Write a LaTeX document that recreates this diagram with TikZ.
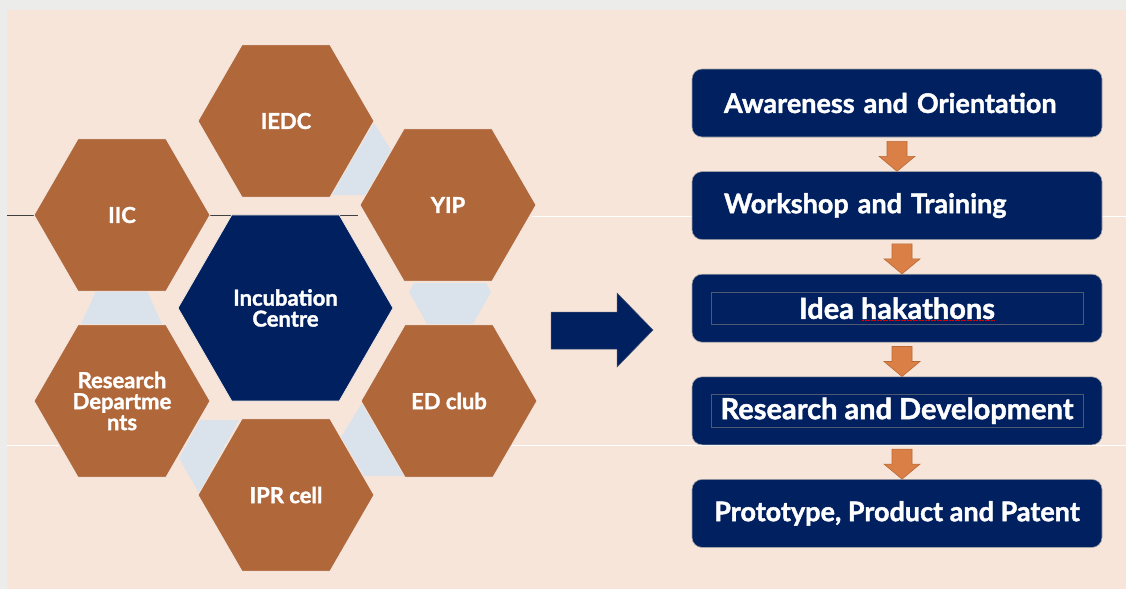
\documentclass[tikz,border=0pt]{standalone}
\usepackage{fontspec}
\setmainfont{Lato}[BoldFeatures={FakeBold=1.5}]
\usetikzlibrary{positioning,shapes.geometric,calc}
\definecolor{peach}{RGB}{248,229,217}
\definecolor{slidegray}{RGB}{236,236,234}
\definecolor{copper}{RGB}{176,103,58}
\definecolor{navyblue}{RGB}{0,32,96}
\definecolor{paleblue}{RGB}{218,227,236}
\definecolor{arroworange}{RGB}{218,128,70}
\definecolor{arrowedge}{RGB}{184,105,56}

\tikzset{
  hexa/.style={regular polygon, regular polygon sides=6, minimum size=176, inner sep=0pt,
    fill=copper, draw=white!85!copper, line width=0.8pt, text=white, align=center,
    font=\fontsize{22}{21}\selectfont\bfseries},
  stagebox/.style={rounded corners=10pt, minimum width=410, minimum height=68,
    fill=navyblue, draw=gray!70, line width=0.6pt, text=white,
    font=\fontsize{27}{30}\selectfont\bfseries},
  framed/.style={font=\fontsize{29}{30}\selectfont\bfseries},
  gap/.style={fill=paleblue},
  downarrow/.style={fill=arroworange, draw=arrowedge, line width=0.6pt},
  textframe/.style={draw=gray!60!navyblue, line width=0.6pt},
}

\begin{document}
\begin{tikzpicture}[x=1pt, y=-1pt]
    \useasboundingbox (0,0) rectangle (1126,589);
    \fill[slidegray] (0,0) rectangle (1126,589);
    \fill[peach] (7,10) rectangle (1126,589);

    % guide lines
    \draw[darkgray, line width=0.8pt] (7,215) -- (358,215);
    \draw[white, line width=0.8pt] (532,216) -- (1126,216);
    \draw[white, line width=0.6pt] (7,445) -- (1126,445);

    % pale gaps between the cells
    \fill[gap] (374,123) -- (391,150) -- (366,195) -- (331,195) -- cycle;
    \fill[gap] (414,283) -- (486,283) -- (491,292) -- (473,324) -- (427,324) -- (409,292) -- cycle;
    \fill[gap] (96,291) -- (147,291) -- (162,324) -- (81,324) -- cycle;
    \fill[gap] (200,420) -- (239,420) -- (199,493) -- (179,458) -- cycle;
    \fill[gap] (362,403) -- (341,437) -- (364,476) -- (405,476) -- cycle;

    % centre cell
    \node[hexa, fill=navyblue, minimum size=215] (inc) at (285.5,308) {Incubation\\Centre};
    % ring of cells
    \node[hexa] (iedc) at (286,121) {IEDC};
    \node[hexa] (yip)  at (448,205) {YIP};
    \node[hexa] (ed)   at (449,401) {ED club};
    \node[hexa] (ipr)  at (286,495) {IPR cell};
    \node[hexa] (rd)   at (122,401) {Research\\Departme\\nts};
    \node[hexa] (iic)  at (122,215) {IIC};

    % pointer
    \filldraw[fill=navyblue, draw=gray!50!navyblue, line width=0.5pt]
        (551,312) -- (617,312) -- (617,293) -- (653,330) -- (617,367) -- (617,349) -- (551,349) -- cycle;

    % stages
    \node[stagebox, text width=346, inner xsep=32, align=left] (aware) at (897,103) {Awareness and Orientation};
    \node[stagebox, text width=346, inner xsep=32, align=left] (work) [below=34pt of aware] {Workshop and Training};
    \node[stagebox, framed] (idea)  [below=34pt of work] {Idea hakathons};
    \node[stagebox, framed] (rnd)   [below=34pt of idea] {Research and Development};
    \node[stagebox] (proto) [below=34pt of rnd]  {Prototype, Product and Patent};

    \draw[textframe] ($(idea.center)+(-186,-16)$) rectangle ($(idea.center)+(186,16)$);
    \draw[textframe] ($(rnd.center)+(-186,-16.5)$) rectangle ($(rnd.center)+(186,16.5)$);
    \draw[red!90!black, line width=1.2pt, dash pattern=on 1.6pt off 1.4pt]
        ($(idea.center)+(-35,12.5)$) -- ($(idea.center)+(98,12.5)$);

    \foreach \a/\b/\dx in {aware/work/0, work/idea/5, idea/rnd/5, rnd/proto/5}
        \filldraw[downarrow] ($(\a.south)+(\dx-10,4)$) -- ++(20,0) -- ($(\b.north)+(\dx+10,-15)$)
            -- ++(8,0) -- ($(\b.north)+(\dx,0)$) -- ++(-18,-15) -- ++(8,0) -- cycle;
\end{tikzpicture}
\end{document}
